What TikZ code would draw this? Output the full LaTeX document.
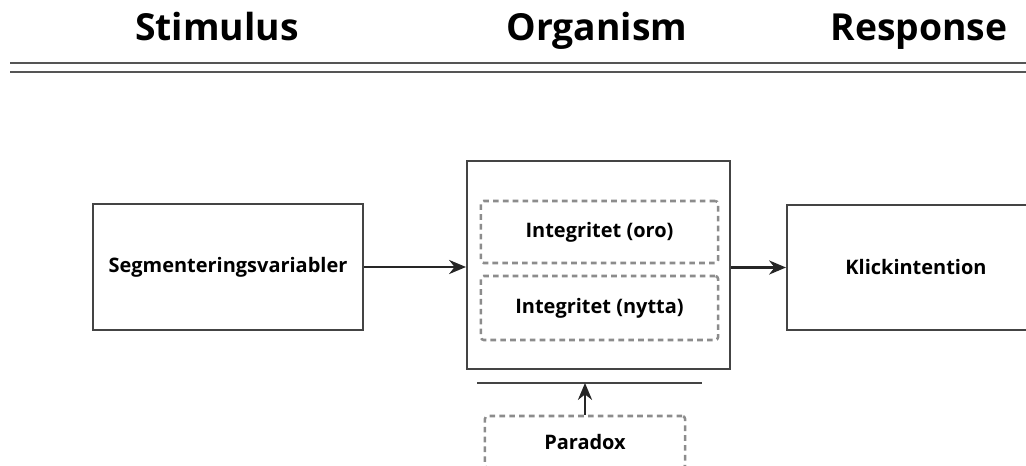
\documentclass[tikz,border=0pt]{standalone}
\usepackage{fontspec}
\setmainfont{Open Sans}
\usepackage{tikz}
\usetikzlibrary{arrows.meta,positioning,calc}
\definecolor{boxgray}{RGB}{68,68,68}
\definecolor{dashgray}{RGB}{140,140,140}
\definecolor{rulegray}{RGB}{85,85,85}

\begin{document}
\begin{tikzpicture}[
  x=0.025cm, y=-0.025cm,
  >=Stealth,
  % Solid box
  sbox/.style = {draw=boxgray, line width=1.4pt, fill=white,
                 align=center, font=\fontsize{14.2}{16}\selectfont\bfseries},
  % Dashed inner box
  dbox/.style = {draw=dashgray, line width=1.8pt, rounded corners=2pt,
                 dash pattern=on 4pt off 3pt,
                 align=center, font=\fontsize{14.2}{16}\selectfont\bfseries},
  % Column heading (on a common baseline)
  hd/.style   = {anchor=base, inner sep=0pt, font=\fontsize{26.5}{30}\selectfont\bfseries},
  % Header rule
  rl/.style   = {color=rulegray, line width=1.6pt},
  arr/.style  = {-{Stealth[length=12pt,width=10pt]}, line width=1.9pt, color=black!85}
]
\useasboundingbox (0,0) rectangle (1026,466);
\clip (0,0) rectangle (1026,466);

% Headings
\node[hd](STI) at (217,41){Stimulus};
\node[hd](ORG) at (597,41){Organism};
\node[hd](RES) at (919,41){Response};

% Double rule under headings
\coordinate(R1a) at (10,63);   \coordinate(R1b) at (1026,63);
\coordinate(R2a) at (10,72);   \coordinate(R2b) at (1026,72);
\draw[rl](R1a)--(R1b);
\draw[rl](R2a)--(R2b);

% Boxes
\node[sbox, minimum width=6.75cm, minimum height=3.15cm](SEG) at (228,267){Segmenteringsvariabler};
\node[sbox, minimum width=6.575cm, minimum height=5.2cm](OBOX) at (598.5,265){};
\node[dbox, minimum width=5.925cm, minimum height=1.55cm](ORO) at (599.5,232){Integritet (oro)};
\node[dbox, minimum width=5.925cm, minimum height=1.6cm](NYT) at (599.5,308){Integritet (nytta)};
\node[sbox, minimum width=6.45cm, minimum height=3.125cm](KLI) at (916,267.5){Klickintention};
\node[dbox, minimum width=5cm, minimum height=1.3cm](PAR) at (585,442){Paradox};

% Line under organism box
\coordinate(BL1) at (477,383);
\coordinate(BL2) at (702,383);
\draw[color=boxgray, line width=1pt](BL1)--(BL2);

% Connectors
\draw[arr](SEG.east)--(SEG.east -| OBOX.west);
\draw[arr](OBOX.east |- KLI.west)--(KLI.west);
\draw[arr](PAR.north)--(PAR.north |- BL1);

\end{tikzpicture}
\end{document}
